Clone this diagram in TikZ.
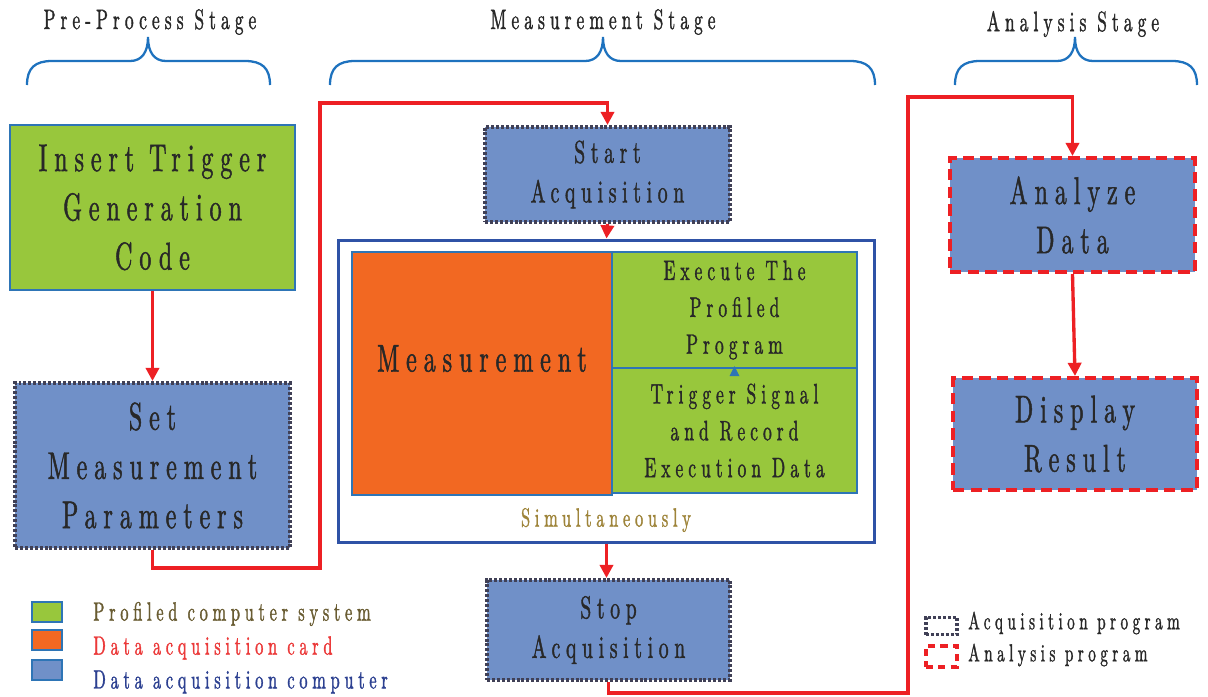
\documentclass[tikz,border=0pt]{standalone}
\usepackage{fontspec}
\setmainfont{lmroman10-regular.otf}[FakeStretch=0.62,LetterSpace=18,FakeBold=1.2]
\usetikzlibrary{positioning,arrows.meta}

\definecolor{boxgreen}{RGB}{152,199,60}
\definecolor{boxorange}{RGB}{242,104,34}
\definecolor{boxblue}{RGB}{112,144,200}
\definecolor{edgeblue}{RGB}{46,117,182}
\definecolor{outerblue}{RGB}{47,82,166}
\definecolor{braceblue}{RGB}{30,114,190}
\definecolor{flowred}{RGB}{237,32,36}
\definecolor{dotgray}{RGB}{64,64,86}
\definecolor{inkgray}{RGB}{40,40,40}
\definecolor{simolive}{RGB}{158,132,58}
\definecolor{legolive}{RGB}{105,92,50}
\definecolor{legred}{RGB}{235,58,58}
\definecolor{legblue}{RGB}{45,65,145}

\tikzset{
  stagebrace/.style={draw=braceblue, line width=1.3pt},
  stagetitle/.style={font=\fontsize{16}{19}\selectfont, text=inkgray},
  box/.style={inner sep=0pt, align=center, text=inkgray},
  greenbox/.style={box, fill=boxgreen, draw=edgeblue, line width=1.1pt},
  acqbox/.style={box, fill=boxblue, draw=dotgray, line width=2.3pt,
    dash pattern=on 1.7pt off 1.1pt},
  anabox/.style={box, fill=boxblue, draw=flowred, line width=2.3pt,
    dash pattern=on 6.5pt off 3.5pt},
  bigtext/.style={font=\fontsize{22}{28}\selectfont},
  midtext/.style={font=\fontsize{18}{22.5}\selectfont},
  smalltext/.style={font=\fontsize{16}{21}\selectfont},
  flow/.style={draw=flowred, line width=1.9pt, -{Triangle[length=7.5pt,width=7.5pt]}},
  swatch/.style={draw=edgeblue, line width=1.1pt, minimum width=0.6cm, minimum height=0.4cm, inner sep=0pt},
  legtext/.style={font=\fontsize{15}{18}\selectfont, inner sep=0pt, anchor=west},
  keytext/.style={font=\fontsize{14}{17}\selectfont, inner sep=0pt, anchor=west, text=inkgray}
}

\begin{document}
\begin{tikzpicture}[x=0.02cm, y=-0.02cm]
    \useasboundingbox (0,0) rectangle (1208,697);
    % stage titles and braces
    \node[stagetitle] (pre) at (150,22) {Pre-Process Stage};
    \node[stagetitle] (mst) at (603,22) {Measurement Stage};
    \node[stagetitle] (ast) at (1073,24) {Analysis Stage};
    \foreach \xa/\xm/\xb in {27/148/270, 330/603/875, 955/1075/1197}
        \draw[stagebrace] (\xa,85) .. controls (\xa,68) and (\xa+8,61) .. (\xa+25,61)
            -- (\xm-18,61) .. controls (\xm-6,61) and (\xm,52) .. (\xm,37)
            .. controls (\xm,52) and (\xm+6,61) .. (\xm+18,61)
            -- (\xb-25,61) .. controls (\xb-8,61) and (\xb,68) .. (\xb,85);

    % pre-process stage
    \node[greenbox, bigtext, minimum width=5.7cm, minimum height=3.3cm] (ins) at (152.5,207.5)
        {Insert Trigger\\Generation\\Code};
    \node[acqbox, bigtext, minimum width=5.5cm, minimum height=3.3cm] (setp) at (152.5,465.5)
        {Set\\Measurement\\Parameters};

    % measurement stage
    \node[acqbox, midtext, minimum width=4.9cm, minimum height=1.9cm] (start) at (607.5,174.5)
        {Start\\Acquisition};
    \node[box, draw=outerblue, line width=1.7pt, minimum width=10.74cm, minimum height=6.06cm] (outer) at (606.5,391.5) {};
    \node[greenbox, fill=boxorange, minimum width=5.2cm, minimum height=4.86cm,
        label={[bigtext, text=inkgray, yshift=8.5pt]center:Measurement}] (meas) at (482,373.5) {};
    \node[greenbox, smalltext, minimum width=4.9cm, minimum height=2.32cm] (exec) at (734.5,310)
        {Execute The\\Profiled\\Program};
    \node[greenbox, smalltext, minimum width=4.9cm, minimum height=2.5cm] (trig) at (734.5,430.5)
        {Trigger Signal\\and Record\\Execution Data};
    \fill[edgeblue] (trig.north) ++(0,-1) -- ++(5,10) -- ++(-10,0) -- cycle;
    \node[font=\fontsize{15}{18}\selectfont, text=simolive] (simul) at (606,520) {Simultaneously};
    \node[acqbox, midtext, minimum width=4.86cm, minimum height=2.0cm] (stop) at (608.5,630)
        {Stop\\Acquisition};

    % analysis stage
    \node[anabox, bigtext, minimum width=4.9cm, minimum height=2.28cm] (ana) at (1072.5,215)
        {Analyze\\Data};
    \node[anabox, bigtext, minimum width=4.88cm, minimum height=2.24cm] (disp) at (1075,434)
        {Display\\Result};

    % connectors
    \coordinate (c1) at (320,568);
    \coordinate (c2) at (320,103);
    \coordinate (c3) at (908,693);
    \coordinate (c4) at (908,97);
    \draw[flow] (ins.south) -- (setp.north);
    \draw[flow] (setp.south) |- (c1) -- (c2) -| (start.north);
    \draw[flow] (start.south) -- (outer.north);
    \draw[flow] (outer.south) -- (outer.south |- stop.north);
    \draw[flow] (stop.south) |- (c3) -- (c4) -| (ana.north);
    \draw[flow] (ana.south) -- (disp.north);

    % legends
    \foreach \fillc/\ys/\yt/\txt/\txtc [count=\i] in {boxgreen/612/614/Profiled computer system/legolive,
        boxorange/640/648/Data acquisition card/legred, boxblue/670/682/Data acquisition computer/legblue}{
        \node[swatch, fill=\fillc] (sw\i) at (47,\ys) {};
        \node[legtext, text=\txtc] (lt\i) at (93,\yt) {\txt};
    }
    \node[acqbox, fill=none, line width=1.8pt, minimum width=0.62cm, minimum height=0.34cm] (acqkey) at (941.5,626) {};
    \node[keytext] (acqlab) at (968,623) {Acquisition program};
    \node[anabox, fill=none, line width=1.8pt, dash pattern=on 4pt off 3pt, minimum width=0.62cm, minimum height=0.42cm] (anakey) at (941.5,656.5) {};
    \node[keytext] (analab) at (968,655) {Analysis program};
\end{tikzpicture}
\end{document}
